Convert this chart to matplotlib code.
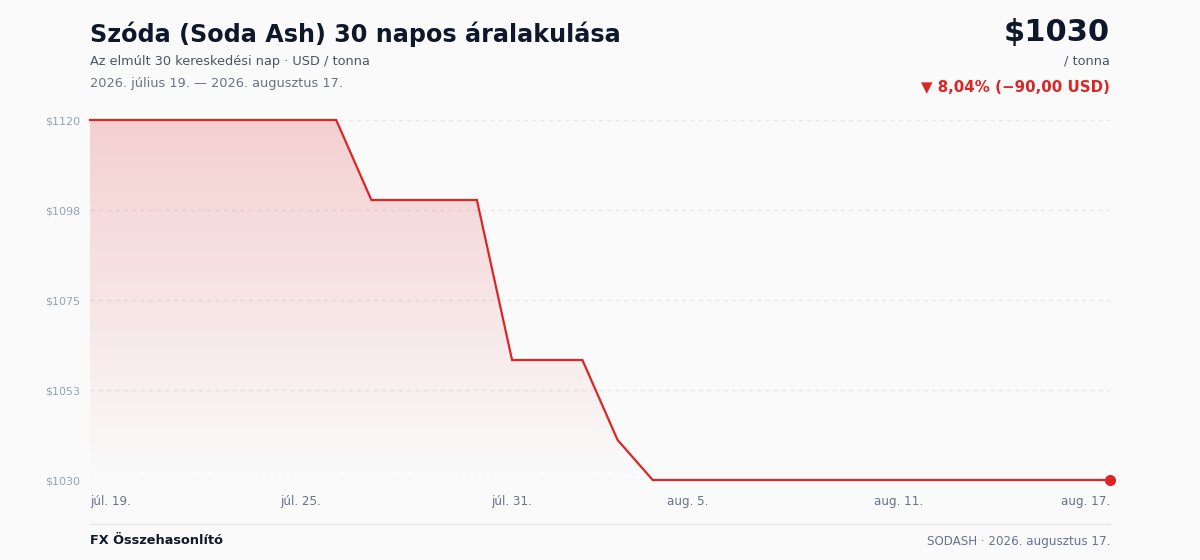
import numpy as np
import pandas as pd
import matplotlib
matplotlib.use("Agg")
import matplotlib.pyplot as plt
from matplotlib.patches import Polygon
from matplotlib.colors import LinearSegmentedColormap

# adatok
dates = pd.date_range("2026-07-19", "2026-08-17", freq="D")
prices = [1120, 1120, 1120, 1120, 1120, 1120, 1120, 1120,
          1100, 1100, 1100, 1100,
          1060, 1060, 1060,
          1040,
          1030, 1030, 1030, 1030, 1030, 1030, 1030, 1030, 1030, 1030, 1030, 1030, 1030, 1030]
x_tick_dates = ["2026-07-19", "2026-07-25", "2026-07-31", "2026-08-05", "2026-08-11", "2026-08-17"]
x_tick_labels = ["júl. 19.", "júl. 25.", "júl. 31.", "aug. 5.", "aug. 11.", "aug. 17."]
y_ticks = [1030, 1052.5, 1075, 1097.5, 1120]
y_tick_labels = ["$1030", "$1053", "$1075", "$1098", "$1120"]

title = "Szóda (Soda Ash) 30 napos áralakulása"
subtitle = "Az elmúlt 30 kereskedési nap · USD / tonna"
date_range_txt = "2026. július 19. — 2026. augusztus 17."
last_price_txt = "$1030"
unit_txt = "/ tonna"
change_txt = "▼ 8,04% (−90,00 USD)"
footer_left = "FX Összehasonlító"
footer_right = "SODASH · 2026. augusztus 17."

BG = "#fafafa"
RED = "#dc2626"
plt.rcParams["font.family"] = ["DejaVu Sans"]

fig = plt.figure(figsize=(12, 5.6), dpi=100, facecolor=BG)
ax = fig.add_axes([90 / 1200, 80 / 560, 1020 / 1200, 360 / 560])
ax.set_facecolor(BG)

xd = pd.to_datetime(dates)
ax.set_xlim(xd[0], xd[-1])
ax.set_ylim(1030, 1120)

# gradiens kitöltés
xn = matplotlib.dates.date2num(xd)
verts = [(xn[0], 1030)] + list(zip(xn, prices)) + [(xn[-1], 1030)]
poly = Polygon(verts, closed=True, facecolor="none", edgecolor="none")
ax.add_patch(poly)
cmap = LinearSegmentedColormap.from_list("g", [(0.86, 0.15, 0.15, 0.0), (0.86, 0.15, 0.15, 0.2)])
grad = np.linspace(0, 1, 256).reshape(-1, 1)
im = ax.imshow(grad, cmap=cmap, aspect="auto", origin="lower",
               extent=[xn[0], xn[-1], 1030, 1120], zorder=1)
im.set_clip_path(poly)

for yv in y_ticks:
    ax.axhline(yv, color="#e5e7eb", lw=1, ls=(0, (3, 3)), zorder=0)

ax.plot(xd, prices, color=RED, lw=1.6, zorder=3, clip_on=False, solid_joinstyle="miter")
ax.plot(xd[-1:], prices[-1:], "o", color=RED, ms=7, zorder=4, clip_on=False)

for s in ax.spines.values():
    s.set_visible(False)
ax.set_yticks(y_ticks)
ax.set_yticklabels(y_tick_labels, color="#94a3b8", fontsize=8)
ax.set_xticks(pd.to_datetime(x_tick_dates))
ax.set_xticklabels(x_tick_labels, color="#64748b", fontsize=8.6)
ax.tick_params(axis="both", length=0)
ax.tick_params(axis="y", pad=7)
ax.tick_params(axis="x", pad=11)
xl = ax.get_xticklabels()
xl[0].set_ha("left")
xl[-1].set_ha("right")

# fejléc
fig.text(90 / 1200, 1 - 34 / 560, title, fontsize=17.2, fontweight="bold",
         color="#0f172a", va="center", ha="left")
fig.text(90 / 1200, 1 - 61 / 560, subtitle, fontsize=9.3, color="#4b5563", va="center")
fig.text(90 / 1200, 1 - 83 / 560, date_range_txt, fontsize=9.3, color="#6b7280", va="center")
fig.text(1110 / 1200, 1 - 32 / 560, last_price_txt, fontsize=22, fontweight="bold",
         color="#0f172a", va="center", ha="right")
fig.text(1110 / 1200, 1 - 61 / 560, unit_txt, fontsize=9.3, color="#4b5563", va="center", ha="right")
fig.text(1110 / 1200, 1 - 87 / 560, change_txt, fontsize=10.8, fontweight="bold",
         color=RED, va="center", ha="right")

# lábléc
fig.add_artist(plt.Line2D([90 / 1200, 1110 / 1200], [1 - 524 / 560] * 2, color="#e5e7eb", lw=1))
fig.text(90 / 1200, 1 - 541 / 560, footer_left, fontsize=9.3, fontweight="bold",
         color="#111827", va="center")
fig.text(1110 / 1200, 1 - 541 / 560, footer_right, fontsize=8.6, color="#64748b",
         va="center", ha="right")

fig.savefig("out.png", dpi=100, facecolor=BG)
